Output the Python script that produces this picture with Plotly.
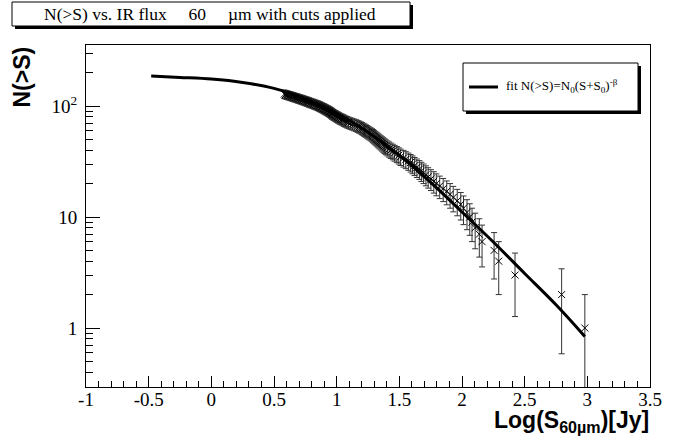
import numpy as np
import plotly.graph_objects as go

# ---- data ----
# cumulative counts N(>S) and the log10 flux where each count is reached
counts = list(range(1, 129))
log_flux = [
    2.980, 2.795, 2.423, 2.293, 2.256, 2.160, 2.138, 2.105, 2.080, 2.062,
    2.040, 2.012, 1.990, 1.962, 1.930, 1.905, 1.878, 1.850, 1.822, 1.795,
    1.775, 1.752, 1.730, 1.712, 1.693, 1.676, 1.660, 1.640, 1.622, 1.605,
    1.590, 1.572, 1.552, 1.533, 1.510, 1.495, 1.480, 1.462, 1.448, 1.432,
    1.418, 1.405, 1.392, 1.382, 1.372, 1.362, 1.352, 1.342, 1.333, 1.325,
    1.316, 1.307, 1.298, 1.290, 1.282, 1.272, 1.262, 1.252, 1.242, 1.232,
    1.222, 1.212, 1.202, 1.192, 1.180, 1.168, 1.155, 1.140, 1.125, 1.110,
    1.095, 1.082, 1.070, 1.060, 1.050, 1.040, 1.030, 1.020, 1.012, 1.004,
    0.996, 0.988, 0.980, 0.972, 0.965, 0.960, 0.955, 0.948, 0.942, 0.935,
    0.928, 0.920, 0.912, 0.905, 0.898, 0.890, 0.882, 0.874, 0.866, 0.858,
    0.850, 0.840, 0.830, 0.820, 0.810, 0.800, 0.790, 0.780, 0.772, 0.762,
    0.752, 0.742, 0.732, 0.722, 0.712, 0.702, 0.692, 0.682, 0.672, 0.662,
    0.652, 0.642, 0.632, 0.622, 0.612, 0.602, 0.592, 0.582,
]

# fit curve N(>S)=N0(S+S0)^-beta
fit_x = [-0.48, -0.25, 0.0, 0.25, 0.5, 0.75, 1.0, 1.25, 1.5, 1.75, 2.0, 2.25, 2.5, 2.75, 2.98]
fit_y = [186, 181, 175, 163, 144, 116, 86, 58, 36, 20.5, 11.1, 5.95, 3.1, 1.62, 0.84]

x_tick_vals = [-1, -0.5, 0, 0.5, 1, 1.5, 2, 2.5, 3, 3.5]
x_tick_text = ["-1", "-0.5", "0", "0.5", "1", "1.5", "2", "2.5", "3", "3.5"]
y_tick_vals = [1, 10, 100]
y_tick_text = ["1", "10", "10<sup>2</sup>"]
y_minor_vals = [0.3, 0.4, 0.5, 0.6, 0.7, 0.8, 0.9,
                2, 3, 4, 5, 6, 7, 8, 9,
                20, 30, 40, 50, 60, 70, 80, 90,
                200, 300]

title_text = ("N(>S) vs. IR flux\u00a0\u00a0\u00a0\u00a0 60\u00a0\u00a0\u00a0\u00a0 "
              "\u00b5m with cuts applied")
legend_text = "fit N(>S)=N<sub>0</sub>(S+S<sub>0</sub>)<sup>-\u03b2</sup>"

# ---- figure ----
W, H = 687, 446
L, R, T, B = 86, 650, 45, 387


def PX(x):
    return (x - L) / (R - L)


def PY(y):
    return (B - y) / (B - T)


N = np.array(counts, dtype=float)
err = np.sqrt(N)

serif = "Liberation Serif"
sans = "Liberation Sans"

fig = go.Figure()
fig.add_trace(go.Scatter(
    x=log_flux, y=counts, mode="markers",
    marker=dict(symbol="x-thin-open", size=7, color="black",
                line=dict(color="black", width=1)),
    error_y=dict(type="data", array=err, arrayminus=err, visible=True,
                 color="#333333", thickness=1, width=3),
    showlegend=False, hoverinfo="skip",
))
fig.add_trace(go.Scatter(
    x=fit_x, y=fit_y, mode="lines",
    line=dict(color="black", width=3, shape="spline"),
    showlegend=False, hoverinfo="skip",
))

fig.update_layout(
    width=W, height=H,
    margin=dict(l=L, r=W - R, t=T, b=H - B, pad=0),
    paper_bgcolor="white", plot_bgcolor="white",
    font=dict(family=serif, color="black", size=19),
    showlegend=False,
)

fig.update_xaxes(
    range=[-1, 3.5], showgrid=False, zeroline=False,
    showline=True, linecolor="black", linewidth=1, mirror=True,
    ticks="inside", ticklen=11, tickcolor="black", tickwidth=1,
    tickmode="array", tickvals=x_tick_vals, ticktext=x_tick_text,
    tickfont=dict(family=serif, size=19, color="black"),
    ticklabelstandoff=-5,
    minor=dict(ticks="inside", ticklen=6, dtick=0.1, tick0=0,
               tickcolor="black", tickwidth=1, showgrid=False),
)
fig.update_yaxes(
    type="log", range=[-0.5315, 2.5495], showgrid=False, zeroline=False,
    showline=True, linecolor="black", linewidth=1, mirror=True,
    ticks="inside", ticklen=14, tickcolor="black", tickwidth=1,
    tickmode="array", tickvals=y_tick_vals, ticktext=y_tick_text,
    tickfont=dict(family=serif, size=19, color="black"),
    ticklabelstandoff=4,
    minor=dict(ticks="inside", ticklen=7, tickmode="array", tickvals=y_minor_vals,
               tickcolor="black", tickwidth=1, showgrid=False),
)

shapes = [
    # title box with shadow
    dict(type="rect", xref="paper", yref="paper", x0=PX(15), x1=PX(413), y0=PY(29), y1=PY(5),
         fillcolor="black", line=dict(width=0)),
    dict(type="rect", xref="paper", yref="paper", x0=PX(12), x1=PX(410), y0=PY(26), y1=PY(2),
         fillcolor="white", line=dict(color="black", width=1)),
    # legend box with shadow
    dict(type="rect", xref="paper", yref="paper", x0=PX(466), x1=PX(641), y0=PY(114), y1=PY(66),
         fillcolor="black", line=dict(width=0)),
    dict(type="rect", xref="paper", yref="paper", x0=PX(463), x1=PX(638), y0=PY(111), y1=PY(63),
         fillcolor="white", line=dict(color="black", width=1)),
    dict(type="line", xref="paper", yref="paper", x0=PX(469), x1=PX(498), y0=PY(87), y1=PY(87),
         line=dict(color="black", width=3)),
]
fig.update_layout(shapes=shapes)

annotations = [
    dict(text=title_text, xref="paper", yref="paper", x=PX(42), y=PY(14),
         xanchor="left", yanchor="middle", showarrow=False,
         font=dict(family=serif, size=17.5, color="black")),
    dict(text=legend_text, xref="paper", yref="paper", x=PX(504), y=PY(86),
         xanchor="left", yanchor="middle", showarrow=False,
         font=dict(family=serif, size=13, color="black")),
    dict(text="<b>N(>S)</b>", xref="paper", yref="paper", x=PX(21), y=PY(45),
         xanchor="center", yanchor="top", textangle=-90, showarrow=False,
         font=dict(family=sans, size=23, color="black")),
    dict(text="<b>Log(S<sub>60\u00b5m</sub>)[Jy]</b>", xref="paper", yref="paper",
         x=PX(651), y=PY(405), xanchor="right", yanchor="top", showarrow=False,
         font=dict(family=sans, size=23, color="black")),
]
fig.update_layout(annotations=annotations)

fig.write_html("out.html")
